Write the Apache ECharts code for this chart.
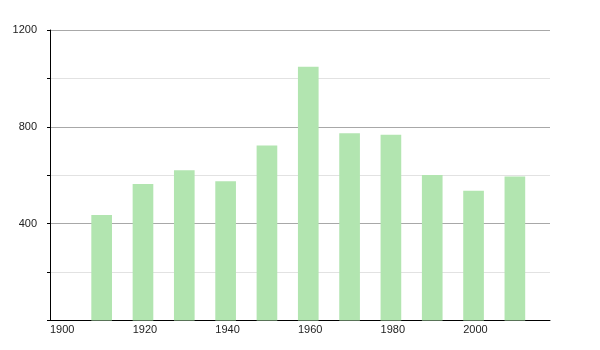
<!DOCTYPE html>
<html>
<head>
<meta charset="utf-8">
<script src="https://cdn.jsdelivr.net/npm/echarts@6/dist/echarts.min.js"></script>
<style>html,body{margin:0;padding:0;background:#fff;}#c{width:600px;height:350px;}</style>
</head>
<body>
<div id="c"></div>
<script>
var years = [1910, 1920, 1930, 1940, 1950, 1960, 1970, 1980, 1990, 2000, 2010];
var values = [436, 564, 621, 575, 723, 1048, 774, 767, 601, 536, 595];
var xLabels = [1900, 1920, 1940, 1960, 1980, 2000];
var yLabels = [400, 800, 1200];
var barYears = 5;

var chart = echarts.init(document.getElementById('c'), null, {renderer: 'canvas'});
var data = years.map(function (y, i) { return [y, values[i]]; });
chart.setOption({
  animation: false,
  grid: {left: 50, right: 50, top: 30, bottom: 29.5, containLabel: false},
  xAxis: {
    type: 'value', min: 1900, max: 2021, interval: 20,
    axisLine: {show: true, onZero: false, lineStyle: {color: '#000', width: 1}},
    axisTick: {show: false},
    splitLine: {show: false},
    axisLabel: {
      align: 'left', margin: 4, color: '#222', fontSize: 11,
      fontFamily: 'Liberation Sans, Arial, sans-serif',
      customValues: xLabels,
      formatter: function (v) { return xLabels.indexOf(v) >= 0 ? String(v) : ''; }
    }
  },
  yAxis: {
    type: 'value', min: 0, max: 1200, interval: 200,
    axisLine: {show: true, lineStyle: {color: '#000', width: 1}},
    axisTick: {show: true, length: 3, lineStyle: {color: '#000'}},
    splitLine: {show: true, lineStyle: {color: ['#a8a8a8', '#e2e2e2'], width: 1}},
    axisLabel: {
      margin: 13, color: '#222', fontSize: 11,
      fontFamily: 'Liberation Sans, Arial, sans-serif',
      formatter: function (v) { return yLabels.indexOf(v) >= 0 ? String(v) : ''; }
    }
  },
  series: [{
    type: 'custom',
    data: data,
    encode: {x: 0, y: 1},
    renderItem: function (params, api) {
      var top = api.coord([api.value(0), api.value(1)]);
      var bottom = api.coord([api.value(0), 0]);
      var w = api.size([barYears, 0])[0];
      return {
        type: 'rect',
        shape: {x: top[0], y: top[1], width: w, height: bottom[1] - top[1]},
        style: {fill: '#b2e5b0', stroke: null}
      };
    }
  }]
});
</script>
</body>
</html>
